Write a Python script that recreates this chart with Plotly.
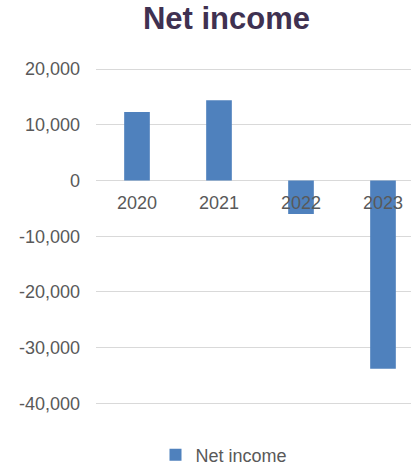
import plotly.graph_objects as go

categories = ["2020", "2021", "2022", "2023"]
net_income = [12300, 14400, -6000, -33800]
series_name = "Net income"
y_tick_values = [20000, 10000, 0, -10000, -20000, -30000, -40000]
y_tick_labels = ["20,000", "10,000", "0", "-10,000", "-20,000", "-30,000", "-40,000"]

W, H = 411, 465
ML, MR, MT, MB = 96, 0, 68, 57
YMIN, YMAX = -40200, 20200

fig = go.Figure()
fig.add_trace(go.Bar(
    x=categories, y=net_income, name=series_name,
    marker=dict(color="#4F81BD", line=dict(width=0)),
    showlegend=True,
))

fig.update_layout(
    width=W, height=H,
    margin=dict(l=ML, r=MR, t=MT, b=MB, pad=0),
    paper_bgcolor="white", plot_bgcolor="white",
    font=dict(family="Liberation Sans, Arial, sans-serif", size=18, color="#595959"),
    title=dict(
        text="<b>Net income</b>",
        font=dict(family="Liberation Sans, Arial, sans-serif", size=31, color="#3F3151"),
        x=226.5 / W, xref="container", xanchor="center",
        y=1 - 18 / H, yref="container", yanchor="middle",
    ),
    bargap=0.687,
    showlegend=True,
    legend=dict(
        orientation="h",
        x=224 / W, xref="container", xanchor="center",
        y=1 - 455 / H, yref="container", yanchor="middle",
        font=dict(size=18, color="#595959"),
        itemwidth=30,
        bgcolor="rgba(0,0,0,0)",
    ),
    xaxis=dict(
        type="category",
        range=[-0.5, -0.5 + (W - ML - MR) / 82.0],
        showgrid=False, zeroline=False, showline=False,
        ticks="",
        anchor="free",
        position=(0 - YMIN) / (YMAX - YMIN),
        tickfont=dict(size=18, color="#595959"),
        ticklabelstandoff=9,
    ),
    yaxis=dict(
        range=[YMIN, YMAX],
        tickvals=y_tick_values, ticktext=y_tick_labels,
        showgrid=True, gridcolor="#D9D9D9", gridwidth=1,
        zeroline=True, zerolinecolor="#D9D9D9", zerolinewidth=1,
        showline=False, ticks="",
        tickfont=dict(size=18, color="#595959"),
        ticklabelstandoff=15,
    ),
)

fig.write_html(
    "out.html",
    config={"displayModeBar": False},
    post_script="document.body.style.margin='0';document.body.style.overflow='hidden';",
)
